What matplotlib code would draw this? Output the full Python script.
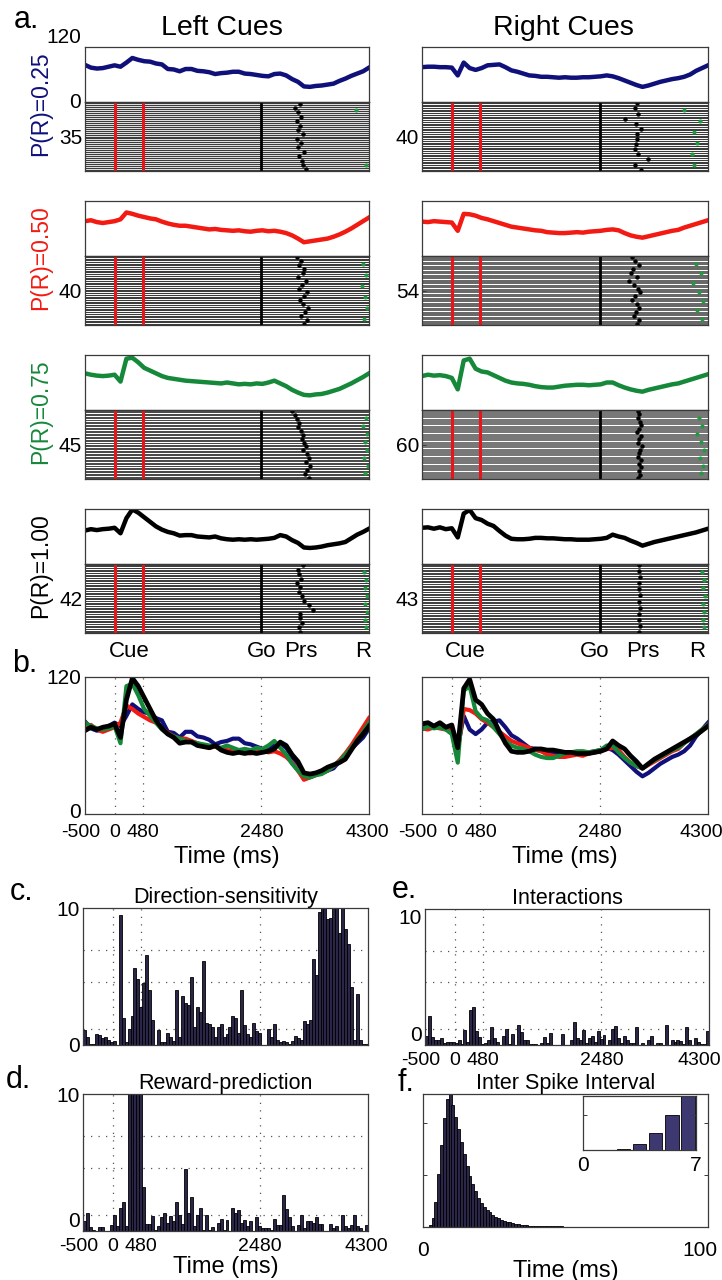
import matplotlib
matplotlib.use('Agg')
import matplotlib.pyplot as plt
import matplotlib.transforms as mtransforms
import numpy as np

plt.rcParams['font.family'] = ['Liberation Sans', 'DejaVu Sans']

# ---------------- DATA ----------------
time_ms = list(range(-500, 4301, 100))  # PSTH sample times

left_025 = [81, 75, 73, 74, 77, 80, 77, 86, 96, 92, 89, 88, 84, 82, 72, 71, 67, 72, 72, 68, 67, 65, 61, 63, 64,
            66, 66, 62, 61, 59, 57, 56, 61, 62, 58, 50, 44, 34, 33, 35, 36, 38, 40, 46, 51, 57, 62, 67, 75]
left_050 = [76, 78, 74, 72, 74, 76, 80, 95, 92, 88, 85, 82, 80, 75, 71, 68, 66, 66, 64, 62, 60, 58, 59, 57, 56,
            55, 56, 54, 53, 55, 56, 54, 55, 53, 50, 45, 38, 30, 32, 34, 36, 38, 42, 47, 53, 60, 68, 76, 84]
left_075 = [80, 77, 75, 74, 75, 77, 62, 112, 114, 104, 92, 86, 80, 74, 70, 68, 66, 64, 63, 62, 61, 60, 59, 58, 60,
            58, 56, 57, 56, 58, 57, 60, 64, 58, 52, 44, 38, 33, 32, 34, 35, 38, 42, 46, 52, 58, 65, 72, 80]
left_100 = [73, 76, 74, 76, 77, 79, 67, 100, 119, 112, 102, 92, 82, 75, 70, 67, 62, 63, 63, 60, 59, 58, 60, 56, 54,
            53, 54, 53, 54, 53, 54, 55, 57, 63, 60, 52, 46, 36, 35, 36, 38, 41, 43, 45, 48, 56, 64, 70, 77]

right_025 = [76, 77, 77, 76, 76, 75, 58, 86, 74, 70, 74, 80, 81, 82, 76, 69, 66, 62, 58, 57, 55, 55, 54, 53, 54,
             53, 53, 54, 54, 55, 56, 58, 56, 52, 47, 42, 37, 33, 36, 40, 44, 47, 50, 52, 55, 60, 68, 74, 80]
right_050 = [75, 74, 76, 75, 74, 73, 55, 92, 91, 88, 83, 80, 76, 72, 68, 64, 62, 60, 58, 56, 55, 52, 51, 50, 50,
             51, 52, 51, 53, 54, 55, 57, 58, 56, 50, 45, 42, 40, 43, 46, 49, 52, 55, 57, 62, 66, 70, 74, 78]
right_075 = [74, 77, 75, 76, 74, 70, 45, 108, 112, 90, 84, 82, 76, 70, 64, 60, 58, 57, 55, 52, 50, 49, 49, 51, 53,
             54, 55, 55, 54, 55, 56, 60, 60, 54, 49, 45, 42, 40, 44, 47, 50, 53, 56, 58, 62, 66, 70, 74, 78]
right_100 = [79, 80, 77, 80, 76, 78, 58, 110, 118, 100, 96, 88, 83, 72, 62, 55, 54, 54, 55, 57, 57, 56, 56, 55, 54,
             54, 53, 53, 53, 54, 55, 57, 64, 60, 57, 51, 46, 40, 44, 48, 51, 54, 57, 60, 63, 66, 69, 73, 77]

prob_labels = ['P(R)=0.25', 'P(R)=0.50', 'P(R)=0.75', 'P(R)=1.00']
trials_left = [35, 40, 45, 42]
trials_right = [40, 54, 60, 43]

press_left = [
    [3130, 3050, 3100, 3150, 3080, 3130, 3100, 3190, 3090, 3150, 3100, 3200, 3110, 3160, 3180, 3240],
    [3080, 3150, 3120, 3200, 3180, 3100, 3230, 3160, 3120, 3250, 3200, 3140, 3180, 3270, 3220, 3150, 3260, 3200],
    [3000, 3050, 3080, 3120, 3100, 3150, 3180, 3160, 3200, 3230, 3190, 3250, 3280, 3240, 3300, 3260, 3220, 3280],
    [3180, 3100, 3120, 3150, 3090, 3130, 3110, 3160, 3200, 3280, 3350, 3140, 3130, 3160, 3120, 3140],
]
press_right = [
    [3100, 3080, 3120, 2900, 3090, 3180, 3100, 3110, 3090, 3070, 3120, 3290, 3080, 3180],
    [3020, 3080, 3150, 3040, 3000, 3100, 2980, 3050, 3120, 3160, 3070, 3030, 3110, 3150, 3090, 3060, 3140, 3100],
    [3130, 3150, 3120, 3160, 3180, 3140, 3110, 3170, 3150, 3130, 3190, 3160, 3140, 3120, 3170, 3150, 3180, 3140, 3160, 3130],
    [3150, 3140, 3160, 3150, 3145, 3155, 3150, 3160, 3140, 3150, 3155, 3150],
]
reward_left = [
    [4080, 4250],
    [4200, 4250, 4180, 4230, 4270, 4210],
    [4250, 4200, 4270, 4230, 4260, 4220, 4280, 4240],
    [4220, 4250, 4230, 4260, 4240, 4270, 4230, 4250],
]
reward_right = [
    [3900, 4170, 4060, 4110, 4030, 4060],
    [4100, 4180, 4050, 4150, 4220, 4120, 4200],
    [4150, 4200, 4120, 4180, 4240, 4160, 4210, 4190],
    [4200, 4230, 4210, 4250, 4220, 4240, 4210, 4230],
]

hist_start = -500
hist_bin = 50
direction_sens = [1.1, 0.6, 0.1, 0.1, 0.8, 0.7, 0.5, 0.6, 0.4, 0.2, 0.3, 0.0, 9.5, 2.0, 0.2, 1.2, 2.1, 5.6, 4.8, 2.75,
                  4.5, 6.6, 4.0, 1.8, 0.0, 1.1, 0.2, 0.2, 0.9, 0.6, 0.3, 4.05, 0.55, 3.6, 3.1, 2.9, 5.0, 1.3, 2.75, 2.4,
                  6.1, 1.6, 1.5, 1.3, 0.6, 1.3, 1.5, 0.6, 0.8, 1.3, 2.1, 2.0, 0.9, 4.0, 1.45, 0.8, 0.55, 1.6, 1.0, 0.85,
                  0.0, 0.0, 1.2, 0.55, 1.5, 0.35, 0.2, 0.3, 0.2, 0.1, 0.3, 0.65, 0.5, 0.35, 1.75, 1.5, 1.8, 6.3, 5.1, 9.7,
                  11, 11, 9.2, 9.3, 11, 11, 8.2, 11, 8.5, 7.4, 4.2, 0.35, 3.7, 0.35, 0.05, 0.05]
reward_pred = [0.7, 1.3, 0.3, 0.1, 0.0, 0.3, 0.3, 0.0, 0.0, 0.45, 1.15, 0.35, 1.7, 2.1, 0.35, 11, 11, 11, 11, 11,
               3.2, 0.5, 0.5, 1.1, 0.1, 0.35, 1.0, 1.35, 0.55, 1.1, 0.7, 2.1, 1.15, 0.5, 4.5, 1.3, 2.45, 0.4, 1.15, 1.65,
               0.1, 1.15, 0.1, 0.3, 0.0, 0.55, 0.85, 0.1, 0.8, 0.0, 1.7, 1.3, 1.5, 0.55, 0.8, 0.35, 0.7, 0.0, 1.0, 0.35,
               0.2, 0.2, 0.2, 0.1, 0.9, 0.45, 0.45, 2.6, 1.6, 1.0, 0.35, 0.0, 0.45, 1.15, 0.25, 0.7, 0.75, 0.55, 1.0, 0.5,
               0.5, 0.0, 0.0, 0.5, 0.2, 0.35, 0.0, 1.15, 0.35, 0.25, 0.45, 1.15, 0.4, 0.2, 0.0, 0.45]
interactions = [0.65, 2.1, 0.6, 0.4, 0.35, 0.5, 0.15, 0.25, 0.25, 0.25, 0.15, 0.35, 0.05, 1.1, 0.25, 2.6, 2.8, 1.0, 0.6, 0.05,
                0.15, 0.4, 1.3, 0.55, 0.25, 0.0, 0.65, 1.15, 0.1, 0.8, 0.0, 1.5, 0.95, 0.35, 0.4, 0.05, 0.05, 0.05, 0.0, 0.15,
                0.6, 0.15, 0.9, 0.0, 0.0, 0.0, 0.8, 0.0, 0.0, 0.4, 1.7, 0.5, 0.35, 1.1, 0.15, 0.55, 0.65, 0.2, 1.0, 0.45,
                0.7, 0.0, 0.4, 1.15, 1.4, 0.55, 0.15, 0.65, 0.35, 0.15, 0.15, 1.35, 0.0, 0.15, 0.0, 0.35, 0.65, 0.0, 0.15, 0.15,
                0.0, 1.5, 0.0, 0.4, 0.2, 0.35, 0.3, 0.05, 1.3, 0.4, 0.0, 0.5, 0.2, 0.1, 0.1, 1.0]

isi_counts = [0, 0, 12, 70, 190, 400, 620, 820, 960, 1000, 920, 830, 740, 640, 550, 460, 380, 320, 270, 220,
              180, 150, 130, 110, 90, 75, 65, 55, 47, 40, 34, 29, 25, 21, 18, 15, 13, 11, 10, 9,
              8, 7, 6, 6, 5, 5, 4, 4, 4, 3, 3, 3, 3, 2, 2, 2, 2, 2, 2, 1,
              1, 1, 1, 1, 1, 1, 1, 1, 1, 1, 0, 0, 0, 0, 0, 0, 0, 0, 0, 0,
              0, 0, 0, 0, 0, 0, 0, 0, 0, 0, 0, 0, 0, 0, 0, 0, 0, 0, 0, 0]

time_ticks = [-500, 0, 480, 2480, 4300]
event_lines = [0, 480, 2480]
event_labels = ['Cue', 'Go', 'Prs', 'R']
event_pos_left = [240, 2480, 3150, 4200]
event_pos_right = [220, 2400, 3200, 4120]

# ---------------- STYLE ----------------
W, H = 722, 1280
fig = plt.figure(figsize=(W / 100, H / 100), dpi=100)

NAVY = '#10107a'
RED = '#f21a12'
GREEN = '#16883a'
BLACK = '#000000'
cond_colors = [NAVY, RED, GREEN, BLACK]
BAR = '#2a2648'
FRAME = '#3a3a3a'
XMIN, XMAX = -500, 4300


def add_ax(x0, y0, x1, y1):
    return fig.add_axes([x0 / W, 1 - y1 / H, (x1 - x0) / W, (y1 - y0) / H])


def style_frame(ax):
    for s in ax.spines.values():
        s.set_color(FRAME)
        s.set_linewidth(0.9)
    ax.tick_params(direction='in', length=3, width=0.7, colors=FRAME, labelcolor='black', labelsize=15, pad=2)


def dotted_v(ax, xs):
    for x in xs:
        ax.axvline(x, color='#555555', lw=0.9, ls=(0, (1, 5)), zorder=0.5)


def dotted_h(ax, ys):
    for y in ys:
        ax.axhline(y, color='#555555', lw=0.9, ls=(0, (1, 5)), zorder=0.5)


def shift_label(lbl, dx_px, dy_px=0):
    lbl.set_transform(lbl.get_transform() + mtransforms.ScaledTranslation(dx_px / 100, -dy_px / 100, fig.dpi_scale_trans))


# ---------------- PANEL a ----------------
cols = [(85, 369, [left_025, left_050, left_075, left_100], trials_left, press_left, reward_left),
        (422, 708, [right_025, right_050, right_075, right_100], trials_right, press_right, reward_right)]

RASTER_H = 69
for ci, (x0, x1, psths, ntr, presses, rewards) in enumerate(cols):
    for r in range(4):
        top = 47 + 154 * r
        mid = top + 55
        bot = mid + RASTER_H
        axp = add_ax(x0, top, x1, mid)
        style_frame(axp)
        axp.plot(time_ms, psths[r], color=cond_colors[r], lw=3.2, solid_joinstyle='round')
        axp.set_xlim(XMIN, XMAX)
        axp.set_ylim(0, 120)
        axp.set_xticks([])
        if ci == 0 and r == 0:
            axp.set_yticks([0, 120])
            axp.set_yticklabels(['0', '120'])
            axp.tick_params(axis='y', length=0, pad=3)
            lbls = axp.get_yticklabels()
            lbls[0].set_va('center')
            lbls[1].set_va('bottom')
        else:
            axp.set_yticks([])

        axr = add_ax(x0, mid, x1, bot)
        style_frame(axr)
        n = ntr[r]
        row_pt = RASTER_H / n * 0.72
        axr.hlines(np.arange(n) + 0.5, XMIN, XMAX, color='#3c3c3c', lw=row_pt * 0.6)
        axr.axvline(0, color='#e8141a', lw=2.2)
        axr.axvline(480, color='#e8141a', lw=2.2)
        axr.axvline(2480, color='black', lw=2.0)
        pr = presses[r]
        axr.plot(pr, np.linspace(0.8, n - 0.8, len(pr)), 'o', color='black', ms=3.2, mew=0)
        rw = rewards[r]
        axr.plot(rw, np.linspace(n * 0.12, n * 0.92, len(rw)), 'o', color='#1f9a3e', ms=3.0, mew=0)
        axr.set_xlim(XMIN, XMAX)
        axr.set_ylim(n, 0)
        axr.set_xticks([])
        axr.set_yticks([n / 2])
        axr.set_yticklabels([str(n)])
        axr.tick_params(axis='y', length=3)

        if ci == 0:
            fig.text(41 / W, 1 - (top + 57) / H, prob_labels[r], rotation=90, color=cond_colors[r],
                     fontsize=16.5, ha='center', va='center')
        if r == 3:
            poss = event_pos_left if ci == 0 else event_pos_right
            for lab, p in zip(event_labels, poss):
                axr.text(p, -0.27, lab, transform=axr.get_xaxis_transform(), fontsize=16,
                         ha='center', va='center')

fig.text(222 / W, 1 - 28 / H, 'Left Cues', fontsize=20.5, ha='center', va='center')
fig.text(563 / W, 1 - 28 / H, 'Right Cues', fontsize=20.5, ha='center', va='center')

# ---------------- PANEL b ----------------
for ci, (x0, x1, psths, *_rest) in enumerate(cols):
    axb = add_ax(x0, 677, x1, 814)
    style_frame(axb)
    dotted_v(axb, event_lines)
    for r in range(4):
        axb.plot(time_ms, psths[r], color=cond_colors[r], lw=3.0 if r < 3 else 3.4, solid_joinstyle='round')
    axb.set_xlim(XMIN, XMAX)
    axb.set_ylim(0, 120)
    axb.set_xticks(time_ticks)
    axb.set_xticklabels([str(t) for t in time_ticks], fontsize=14)
    axb.tick_params(axis='x', length=0, pad=7)
    shift_label(axb.get_xticklabels()[-1], -7 if ci == 1 else -2)
    shift_label(axb.get_xticklabels()[0], -4)
    axb.set_xlabel('Time (ms)', fontsize=17, labelpad=4)
    if ci == 0:
        axb.set_yticks([0, 120])
        axb.set_yticklabels(['0', '120'])
        axb.tick_params(axis='y', length=0, pad=3)
        shift_label(axb.get_yticklabels()[0], 0, -4)
    else:
        axb.set_yticks([])

# ---------------- PANELS c, d, e ----------------
bin_left = np.arange(hist_start, XMAX, hist_bin)
hgrid = [1.2, 4.6, 6.9]


def hist_panel(rect, vals, title, xlabels, xlabel=None, zero_bottom=False, ten_top=False, right_edge=False):
    ax = add_ax(*rect)
    style_frame(ax)
    dotted_v(ax, event_lines)
    dotted_h(ax, hgrid)
    ax.bar(bin_left, vals, width=hist_bin, align='edge', color=BAR, edgecolor='black', linewidth=0.6, zorder=2)
    ax.set_xlim(XMIN, XMAX)
    ax.set_ylim(0, 10)
    ax.set_yticks([0, 10])
    ax.set_yticklabels(['0', '10'])
    ax.tick_params(axis='y', length=0, pad=2)
    yl = ax.get_yticklabels()
    if zero_bottom:
        yl[0].set_va('bottom')
    if ten_top:
        yl[1].set_va('top')
    ax.set_title(title, fontsize=15.5, pad=3)
    if xlabels:
        ax.set_xticks(time_ticks)
        ax.set_xticklabels([str(t) for t in time_ticks], fontsize=14)
        ax.tick_params(axis='x', length=0, pad=5)
        shift_label(ax.get_xticklabels()[-1], -10 if right_edge else -2)
        shift_label(ax.get_xticklabels()[0], -4)
    else:
        ax.set_xticks([])
    if xlabel:
        ax.set_xlabel(xlabel, fontsize=17, labelpad=1)
    return ax


hist_panel((83, 908, 368, 1045), direction_sens, 'Direction-sensitivity', False)
hist_panel((425, 909, 709, 1045), interactions, 'Interactions', True, zero_bottom=True, ten_top=True, right_edge=True)
hist_panel((83, 1094, 368, 1231), reward_pred, 'Reward-prediction', True, 'Time (ms)', zero_bottom=True)

# ---------------- PANEL f ----------------
isi_edges = np.arange(len(isi_counts))
axf = add_ax(423, 1094, 708, 1227)
style_frame(axf)
axf.bar(isi_edges, isi_counts, width=1, align='edge', color=BAR, edgecolor='black', linewidth=0.6)
axf.set_xlim(0, 100)
axf.set_ylim(0, max(isi_counts))
axf.set_xticks([0, 100])
axf.set_xticklabels(['0', '100'], fontsize=15)
axf.tick_params(axis='x', length=0, pad=10)
shift_label(axf.get_xticklabels()[-1], -8)
axf.set_yticks([max(isi_counts) * 0.39, max(isi_counts) * 0.78])
axf.set_yticklabels([])
axf.tick_params(axis='y', right=True, left=True, length=3)
axf.set_xlabel('Time (ms)', fontsize=17, labelpad=0)
axf.set_title('Inter Spike Interval', fontsize=15.5, pad=3)

axi = add_ax(583, 1096, 696, 1150)
style_frame(axi)
axi.bar(isi_edges[:7] + 0.08, isi_counts[:7], width=0.84, align='edge', color='#3d3870', edgecolor='black', linewidth=0.6)
axi.set_xlim(0, 7)
axi.set_ylim(0, isi_counts[6])
axi.set_xticks([0, 7])
axi.set_xticklabels(['0', '7'], fontsize=15)
axi.tick_params(axis='x', length=0, pad=4)
axi.set_yticks([isi_counts[6] * 0.65])
axi.set_yticklabels([])
axi.tick_params(axis='y', left=True, right=True, length=3)

# ---------------- PANEL LETTERS ----------------
for lab, x, y in [('a.', 14, 20), ('b.', 12, 664), ('c.', 10, 892), ('d.', 6, 1080), ('e.', 392, 890), ('f.', 398, 1083)]:
    fig.text(x / W, 1 - y / H, lab, fontsize=22, ha='left', va='center')

fig.savefig('out.png', dpi=100)
